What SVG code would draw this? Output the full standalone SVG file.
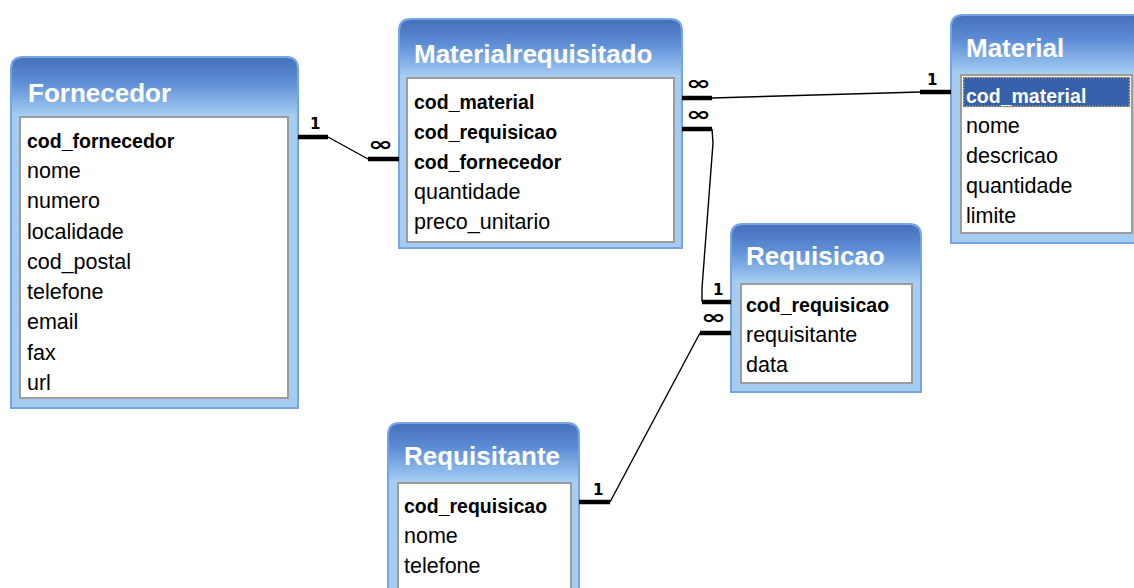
<svg xmlns="http://www.w3.org/2000/svg" width="1134" height="588" viewBox="0 0 1134 588">
<defs>
<linearGradient id="tg" x1="0" y1="0" x2="0" y2="1">
<stop offset="0" stop-color="#4670BC"/>
<stop offset="0.45" stop-color="#5F8FD6"/>
<stop offset="1" stop-color="#A2CAF2"/>
</linearGradient>
</defs>
<style>
.frame{fill:#A6CCF2;stroke:#74A6E6;stroke-width:2}
.title{fill:url(#tg)}
.list{fill:#FFFFFF;stroke:#9C9C9C;stroke-width:2}
.tt{font-family:"Liberation Sans",Arial,sans-serif;font-weight:bold;font-size:26px;fill:#FFFFFF}
.f{font-family:"Liberation Sans",Arial,sans-serif;font-size:21.5px;fill:#000000}
.k{font-family:"Liberation Sans",Arial,sans-serif;font-size:19.5px;font-weight:bold;fill:#000000}
.bar{stroke:#000;stroke-width:4.5;fill:none}
.ln{stroke:#000;stroke-width:1.4;fill:none}
.one{font-family:"DejaVu Sans",sans-serif;font-weight:bold;font-size:15px;fill:#000}
.inf{font-family:"DejaVu Sans",sans-serif;font-weight:bold;font-size:20px;fill:#000}
</style>
<rect x="0" y="0" width="1134" height="588" fill="#FFFFFF"/>

<g id="fornecedor" transform="translate(11,57)">
<path class="frame" d="M0,351 V12 Q0,0 12,0 H275 Q287,0 287,12 V351 Z"/>
<path class="title" d="M1,57 V12 Q1,1 12,1 H275 Q286,1 286,12 V57 Z"/>
<rect class="list" x="9" y="60" width="268" height="281"/>
<text class="tt" x="17" y="45">Fornecedor</text>
<text class="k" x="16" y="91">cod_fornecedor</text>
<text class="f" x="16" y="121">nome</text>
<text class="f" x="16" y="151">numero</text>
<text class="f" x="16" y="182">localidade</text>
<text class="f" x="16" y="212">cod_postal</text>
<text class="f" x="16" y="242">telefone</text>
<text class="f" x="16" y="272">email</text>
<text class="f" x="16" y="303">fax</text>
<text class="f" x="16" y="333">url</text>
</g>

<g id="materialrequisitado" transform="translate(399,19)">
<path class="frame" d="M0,229 V12 Q0,0 12,0 H271 Q283,0 283,12 V229 Z"/>
<path class="title" d="M1,56 V12 Q1,1 12,1 H271 Q282,1 282,12 V56 Z"/>
<rect class="list" x="8" y="59" width="267" height="164"/>
<text class="tt" x="15" y="44">Materialrequisitado</text>
<text class="k" x="15" y="90">cod_material</text>
<text class="k" x="15" y="120">cod_requisicao</text>
<text class="k" x="15" y="150">cod_fornecedor</text>
<text class="f" x="15" y="180">quantidade</text>
<text class="f" x="15" y="210">preco_unitario</text>
</g>

<g id="material" transform="translate(951,15)">
<path class="frame" d="M0,228 V12 Q0,0 12,0 H190 Q200,0 200,12 V228 Z"/>
<path class="title" d="M1,57 V12 Q1,1 12,1 H190 Q199,1 199,12 V57 Z"/>
<rect class="list" x="10" y="60" width="171" height="158"/>
<rect x="12" y="62" width="167" height="30" fill="#3560AA"/>
<rect x="12.5" y="62.5" width="166" height="29" fill="none" stroke="#D2B060" stroke-width="1.5" stroke-dasharray="1.5,1.5"/>
<text class="tt" x="15" y="42">Material</text>
<text class="k" x="15" y="88" style="fill:#FFFFFF">cod_material</text>
<text class="f" x="15" y="118">nome</text>
<text class="f" x="15" y="148">descricao</text>
<text class="f" x="15" y="178">quantidade</text>
<text class="f" x="15" y="208">limite</text>
</g>

<g id="requisicao" transform="translate(731,224)">
<path class="frame" d="M0,168 V12 Q0,0 12,0 H178 Q190,0 190,12 V168 Z"/>
<path class="title" d="M1,57 V12 Q1,1 12,1 H178 Q189,1 189,12 V57 Z"/>
<rect class="list" x="10" y="60" width="171" height="99"/>
<text class="tt" x="15" y="41">Requisicao</text>
<text class="k" x="15" y="88">cod_requisicao</text>
<text class="f" x="15" y="118">requisitante</text>
<text class="f" x="15" y="148">data</text>
</g>

<g id="requisitante" transform="translate(388,423)">
<path class="frame" d="M0,180 V12 Q0,0 12,0 H179 Q191,0 191,12 V180 Z"/>
<path class="title" d="M1,57 V12 Q1,1 12,1 H179 Q190,1 190,12 V57 Z"/>
<rect class="list" x="10" y="60" width="173" height="120"/>
<text class="tt" x="16" y="42">Requisitante</text>
<text class="k" x="16" y="90">cod_requisicao</text>
<text class="f" x="16" y="120">nome</text>
<text class="f" x="16" y="150">telefone</text>
</g>

<g id="connectors">
<line class="bar" x1="298" y1="137" x2="328" y2="137"/>
<polyline class="ln" points="328,137 368,159"/>
<line class="bar" x1="368" y1="159" x2="399" y2="159"/>
<text class="one" x="310" y="129">1</text>
<text class="inf" x="368" y="151" textLength="25" lengthAdjust="spacingAndGlyphs">∞</text>

<line class="bar" x1="682" y1="98" x2="712" y2="98"/>
<polyline class="ln" points="712,98 920,92"/>
<line class="bar" x1="920" y1="92" x2="951" y2="92"/>
<text class="one" x="927" y="85">1</text>
<text class="inf" x="686" y="90" textLength="25" lengthAdjust="spacingAndGlyphs">∞</text>

<line class="bar" x1="682" y1="129" x2="712" y2="129"/>
<polyline class="ln" points="712,129 713,143 702,288 702,302"/>
<line class="bar" x1="702" y1="302" x2="731" y2="302"/>
<text class="one" x="713" y="295">1</text>
<text class="inf" x="686" y="121" textLength="25" lengthAdjust="spacingAndGlyphs">∞</text>

<line class="bar" x1="579" y1="502" x2="610" y2="502"/>
<polyline class="ln" points="610,502 700,333"/>
<line class="bar" x1="700" y1="333" x2="731" y2="333"/>
<text class="one" x="593" y="495">1</text>
<text class="inf" x="701" y="324" textLength="25" lengthAdjust="spacingAndGlyphs">∞</text>
</g>
</svg>
